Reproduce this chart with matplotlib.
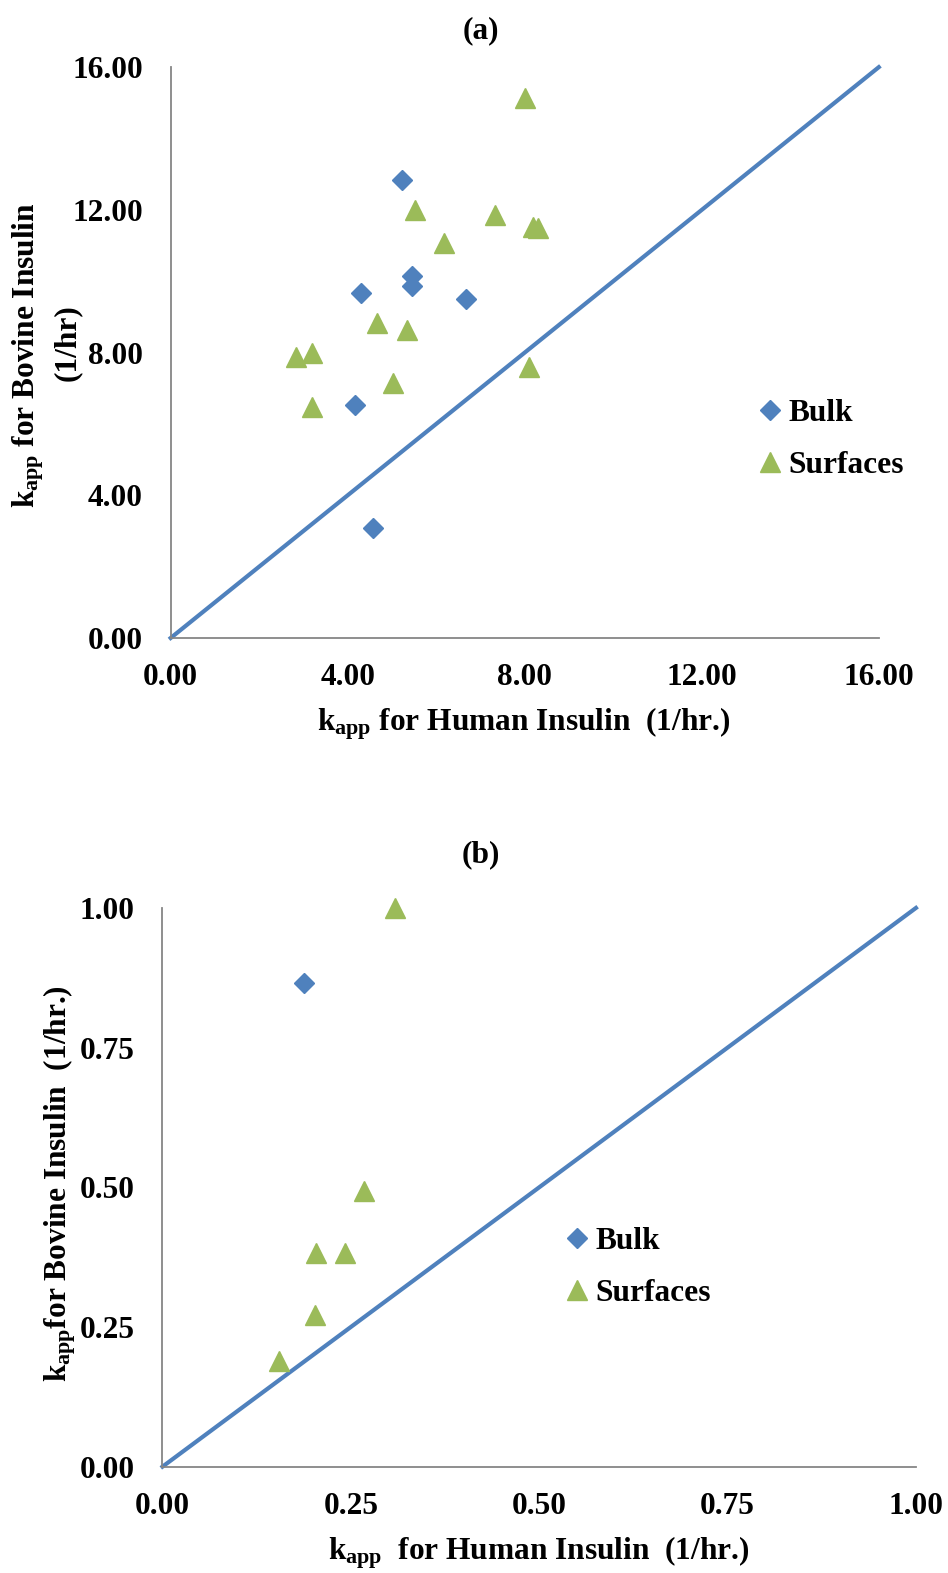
import matplotlib
matplotlib.use("Agg")
import matplotlib.pyplot as plt
import numpy as np

# fonts: bold Times-like everywhere, subscripts too
plt.rcParams['font.family'] = ['Liberation Serif', 'DejaVu Serif']
plt.rcParams['font.weight'] = 'bold'
plt.rcParams['mathtext.fontset'] = 'custom'
plt.rcParams['mathtext.rm'] = 'Liberation Serif:bold'
plt.rcParams['mathtext.it'] = 'Liberation Serif:bold'
plt.rcParams['mathtext.bf'] = 'Liberation Serif:bold'
plt.rcParams['mathtext.default'] = 'rm'

# Panel (a) data: kapp human (x) vs kapp bovine (y)
a_bulk_x = [5.22, 5.46, 5.46, 4.29, 6.67, 4.16, 4.57]
a_bulk_y = [12.85, 10.15, 9.87, 9.67, 9.50, 6.54, 3.07]
a_surf_x = [8.01, 5.53, 7.32, 8.18, 8.30, 6.18, 4.67, 5.35, 2.83, 3.19, 5.02, 8.10, 3.19]
a_surf_y = [15.14, 12.00, 11.87, 11.51, 11.48, 11.08, 8.82, 8.62, 7.89, 8.00, 7.15, 7.59, 6.47]
a_ticks = [0, 4, 8, 12, 16]
a_ticklabels = ['0.00', '4.00', '8.00', '12.00', '16.00']

# Panel (b) data
b_bulk_x = [0.188]
b_bulk_y = [0.866]
b_surf_x = [0.309, 0.268, 0.204, 0.242, 0.202, 0.154]
b_surf_y = [1.00, 0.494, 0.382, 0.382, 0.271, 0.190]
b_ticks = [0, 0.25, 0.5, 0.75, 1.0]
b_ticklabels = ['0.00', '0.25', '0.50', '0.75', '1.00']

blue = '#4F81BD'
green = '#9BBB59'
grey = '#868686'
fs = 22.6

fig = plt.figure(figsize=(9.48, 15.73), dpi=100)

ax1 = fig.add_axes([0.180, 0.5944, 0.747, 0.3629])
ax2 = fig.add_axes([0.1714, 0.0676, 0.7948, 0.3552])


def style_axes(ax, ticks, labels, lim):
    ax.set_xlim(lim)
    ax.set_ylim(lim)
    ax.set_xticks(ticks)
    ax.set_xticklabels(labels)
    ax.set_yticks(ticks)
    ax.set_yticklabels(labels)
    for s in ['top', 'right']:
        ax.spines[s].set_visible(False)
    for s in ['left', 'bottom']:
        ax.spines[s].set_color(grey)
        ax.spines[s].set_linewidth(1.3)
    ax.tick_params(axis='both', length=0, labelsize=fs)
    ax.tick_params(axis='x', pad=18)
    ax.tick_params(axis='y', pad=20)
    for lab in ax.get_xticklabels() + ax.get_yticklabels():
        lab.set_fontweight('bold')


# panel (a)
ax1.plot(a_ticks[::len(a_ticks) - 1], a_ticks[::len(a_ticks) - 1], color=blue, lw=3,
         zorder=2, clip_on=False)
ax1.plot(a_bulk_x, a_bulk_y, ls='none', marker='D', ms=10.5, color=blue, label='Bulk', zorder=3)
ax1.plot(a_surf_x, a_surf_y, ls='none', marker='^', ms=15, color=green, label='Surfaces', zorder=3)
style_axes(ax1, a_ticks, a_ticklabels, (0, 16))
ax1.legend(loc='center left', bbox_to_anchor=(0.833, 0.348), frameon=False,
           fontsize=fs, handlelength=0.6, handletextpad=0.3, labelspacing=0.72,
           borderpad=0, borderaxespad=0)

# panel (b)
ax2.plot(b_ticks[::len(b_ticks) - 1], b_ticks[::len(b_ticks) - 1], color=blue, lw=3,
         zorder=2, clip_on=False)
ax2.plot(b_bulk_x, b_bulk_y, ls='none', marker='D', ms=10.5, color=blue, label='Bulk', zorder=3)
ax2.plot(b_surf_x, b_surf_y, ls='none', marker='^', ms=15, color=green, label='Surfaces',
         zorder=3, clip_on=False)
style_axes(ax2, b_ticks, b_ticklabels, (0, 1))
ax2.legend(loc='center left', bbox_to_anchor=(0.537, 0.356), frameon=False,
           fontsize=fs, handlelength=0.6, handletextpad=0.3, labelspacing=0.72,
           borderpad=0, borderaxespad=0)

# titles and axis labels
H = 1573.0
W = 948.0
fig.text(481 / W, 1 - 31 / H, '(a)', ha='center', va='center', fontsize=fs, fontweight='bold')
fig.text(481 / W, 1 - 855 / H, '(b)', ha='center', va='center', fontsize=fs, fontweight='bold')

fig.text(524 / W, 1 - 724 / H, r'k$_{app}$ for Human Insulin  (1/hr.)',
         ha='center', va='center', fontsize=fs, fontweight='bold')
# y label of (a) is on two lines
fig.text(28 / W, 1 - 355 / H, r'k$_{app}$ for Bovine Insulin', rotation=90,
         ha='center', va='center', fontsize=fs, fontweight='bold')
fig.text(67 / W, 1 - 343 / H, '(1/hr)', rotation=90,
         ha='center', va='center', fontsize=fs, fontweight='bold')

fig.text(539 / W, 1 - 1553 / H, r'k$_{app}$  for Human Insulin  (1/hr.)',
         ha='center', va='center', fontsize=fs, fontweight='bold')
fig.text(60 / W, 1 - 1184 / H, r'k$_{app}$for Bovine Insulin  (1/hr.)', rotation=90,
         ha='center', va='center', fontsize=fs, fontweight='bold')

fig.savefig('out.png', dpi=100)
